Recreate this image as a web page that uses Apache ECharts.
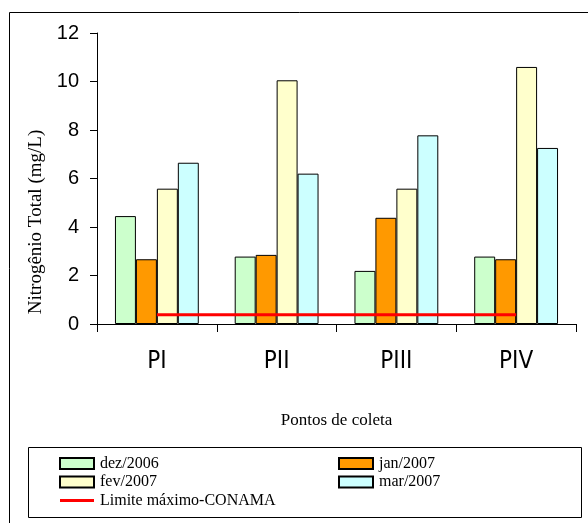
<!DOCTYPE html>
<html>
<head>
<meta charset="utf-8">
<script src="https://cdn.jsdelivr.net/npm/echarts@6/dist/echarts.min.js"></script>
<style>
html, body { margin: 0; padding: 0; background: #fff; }
#chart { width: 588px; height: 523px; }
</style>
</head>
<body>
<div id="chart"></div>
<script>
const pontos = ['PI', 'PII', 'PIII', 'PIV'];
const dez2006 = [4.45, 2.78, 2.19, 2.78];
const jan2007 = [2.67, 2.85, 4.38, 2.67];
const fev2007 = [5.58, 10.05, 5.58, 10.6];
const mar2007 = [6.65, 6.2, 7.78, 7.26];
const limiteConama = [0.38, 0.38, 0.38, 0.38];

const barBorder = { borderColor: '#000', borderWidth: 1 };
const legendText = { fontFamily: 'Liberation Serif', fontSize: 16, lineHeight: 18, color: '#000', padding: [0, 0, 0, 1] };

var dom = document.getElementById('chart');
var myChart = echarts.init(dom, null, { renderer: 'canvas' });

var option = {
  animation: false,
  graphic: [
    { type: 'rect', shape: { x: 9.5, y: 12.5, width: 600, height: 530 },
      style: { fill: 'none', stroke: '#000', lineWidth: 1 } },
    { type: 'rect', shape: { x: 28.5, y: 447.5, width: 553, height: 70 },
      style: { fill: 'none', stroke: '#000', lineWidth: 1 } }
  ],
  grid: { left: 97, right: 12, top: 33, bottom: 199 },
  legend: [
    {
      orient: 'vertical', left: 59, top: 454.5, padding: 0, height: 200,
      itemWidth: 34, itemHeight: 11, itemGap: 0.5, icon: 'rect',
      textStyle: legendText,
      data: ['dez/2006', 'fev/2007', {
        name: 'Limite máximo-CONAMA',
        icon: 'path://M0,0 L34,0 L34,3 L0,3 Z',
        itemStyle: { color: '#FF0000', borderWidth: 0 }
      }]
    },
    {
      orient: 'vertical', left: 338, top: 454.5, padding: 0, height: 200,
      itemWidth: 34, itemHeight: 11, itemGap: 0.5, icon: 'rect',
      textStyle: legendText,
      data: ['jan/2007', 'mar/2007']
    }
  ],
  xAxis: {
    type: 'category',
    data: pontos,
    name: 'Pontos de coleta',
    nameLocation: 'middle',
    nameGap: 88,
    nameTextStyle: { fontFamily: 'Liberation Serif', fontSize: 17, color: '#000' },
    axisLine: { lineStyle: { color: '#000' } },
    axisTick: { show: true, length: 8, lineStyle: { color: '#000' } },
    axisLabel: { fontFamily: 'DejaVu Sans Condensed, Liberation Sans', fontSize: 24, color: '#000', margin: 26 }
  },
  yAxis: {
    type: 'value',
    min: 0, max: 12, interval: 2,
    name: 'Nitrogênio Total (mg/L)',
    nameLocation: 'middle',
    nameGap: 45,
    nameTextStyle: { fontFamily: 'Liberation Serif', fontSize: 19, color: '#000', padding: [0, 87, 0, 0] },
    splitLine: { show: false },
    axisLine: { show: true, lineStyle: { color: '#000' } },
    axisTick: { show: true, length: 7, lineStyle: { color: '#000' } },
    axisLabel: { fontFamily: 'Liberation Sans', fontSize: 20, color: '#000', margin: 18 }
  },
  series: [
    { name: 'dez/2006', type: 'bar', data: dez2006, barGap: '0%', barCategoryGap: '30%',
      itemStyle: Object.assign({ color: '#CCFFCC' }, barBorder) },
    { name: 'jan/2007', type: 'bar', data: jan2007,
      itemStyle: Object.assign({ color: '#FF9900' }, barBorder) },
    { name: 'fev/2007', type: 'bar', data: fev2007,
      itemStyle: Object.assign({ color: '#FFFFCC' }, barBorder) },
    { name: 'mar/2007', type: 'bar', data: mar2007,
      itemStyle: Object.assign({ color: '#CCFFFF' }, barBorder) },
    { name: 'Limite máximo-CONAMA', type: 'line', data: limiteConama,
      symbol: 'none', z: 5,
      lineStyle: { color: '#FF0000', width: 3 },
      itemStyle: { color: '#FF0000' } }
  ]
};

myChart.setOption(option);
window.addEventListener('resize', myChart.resize);
</script>
</body>
</html>
